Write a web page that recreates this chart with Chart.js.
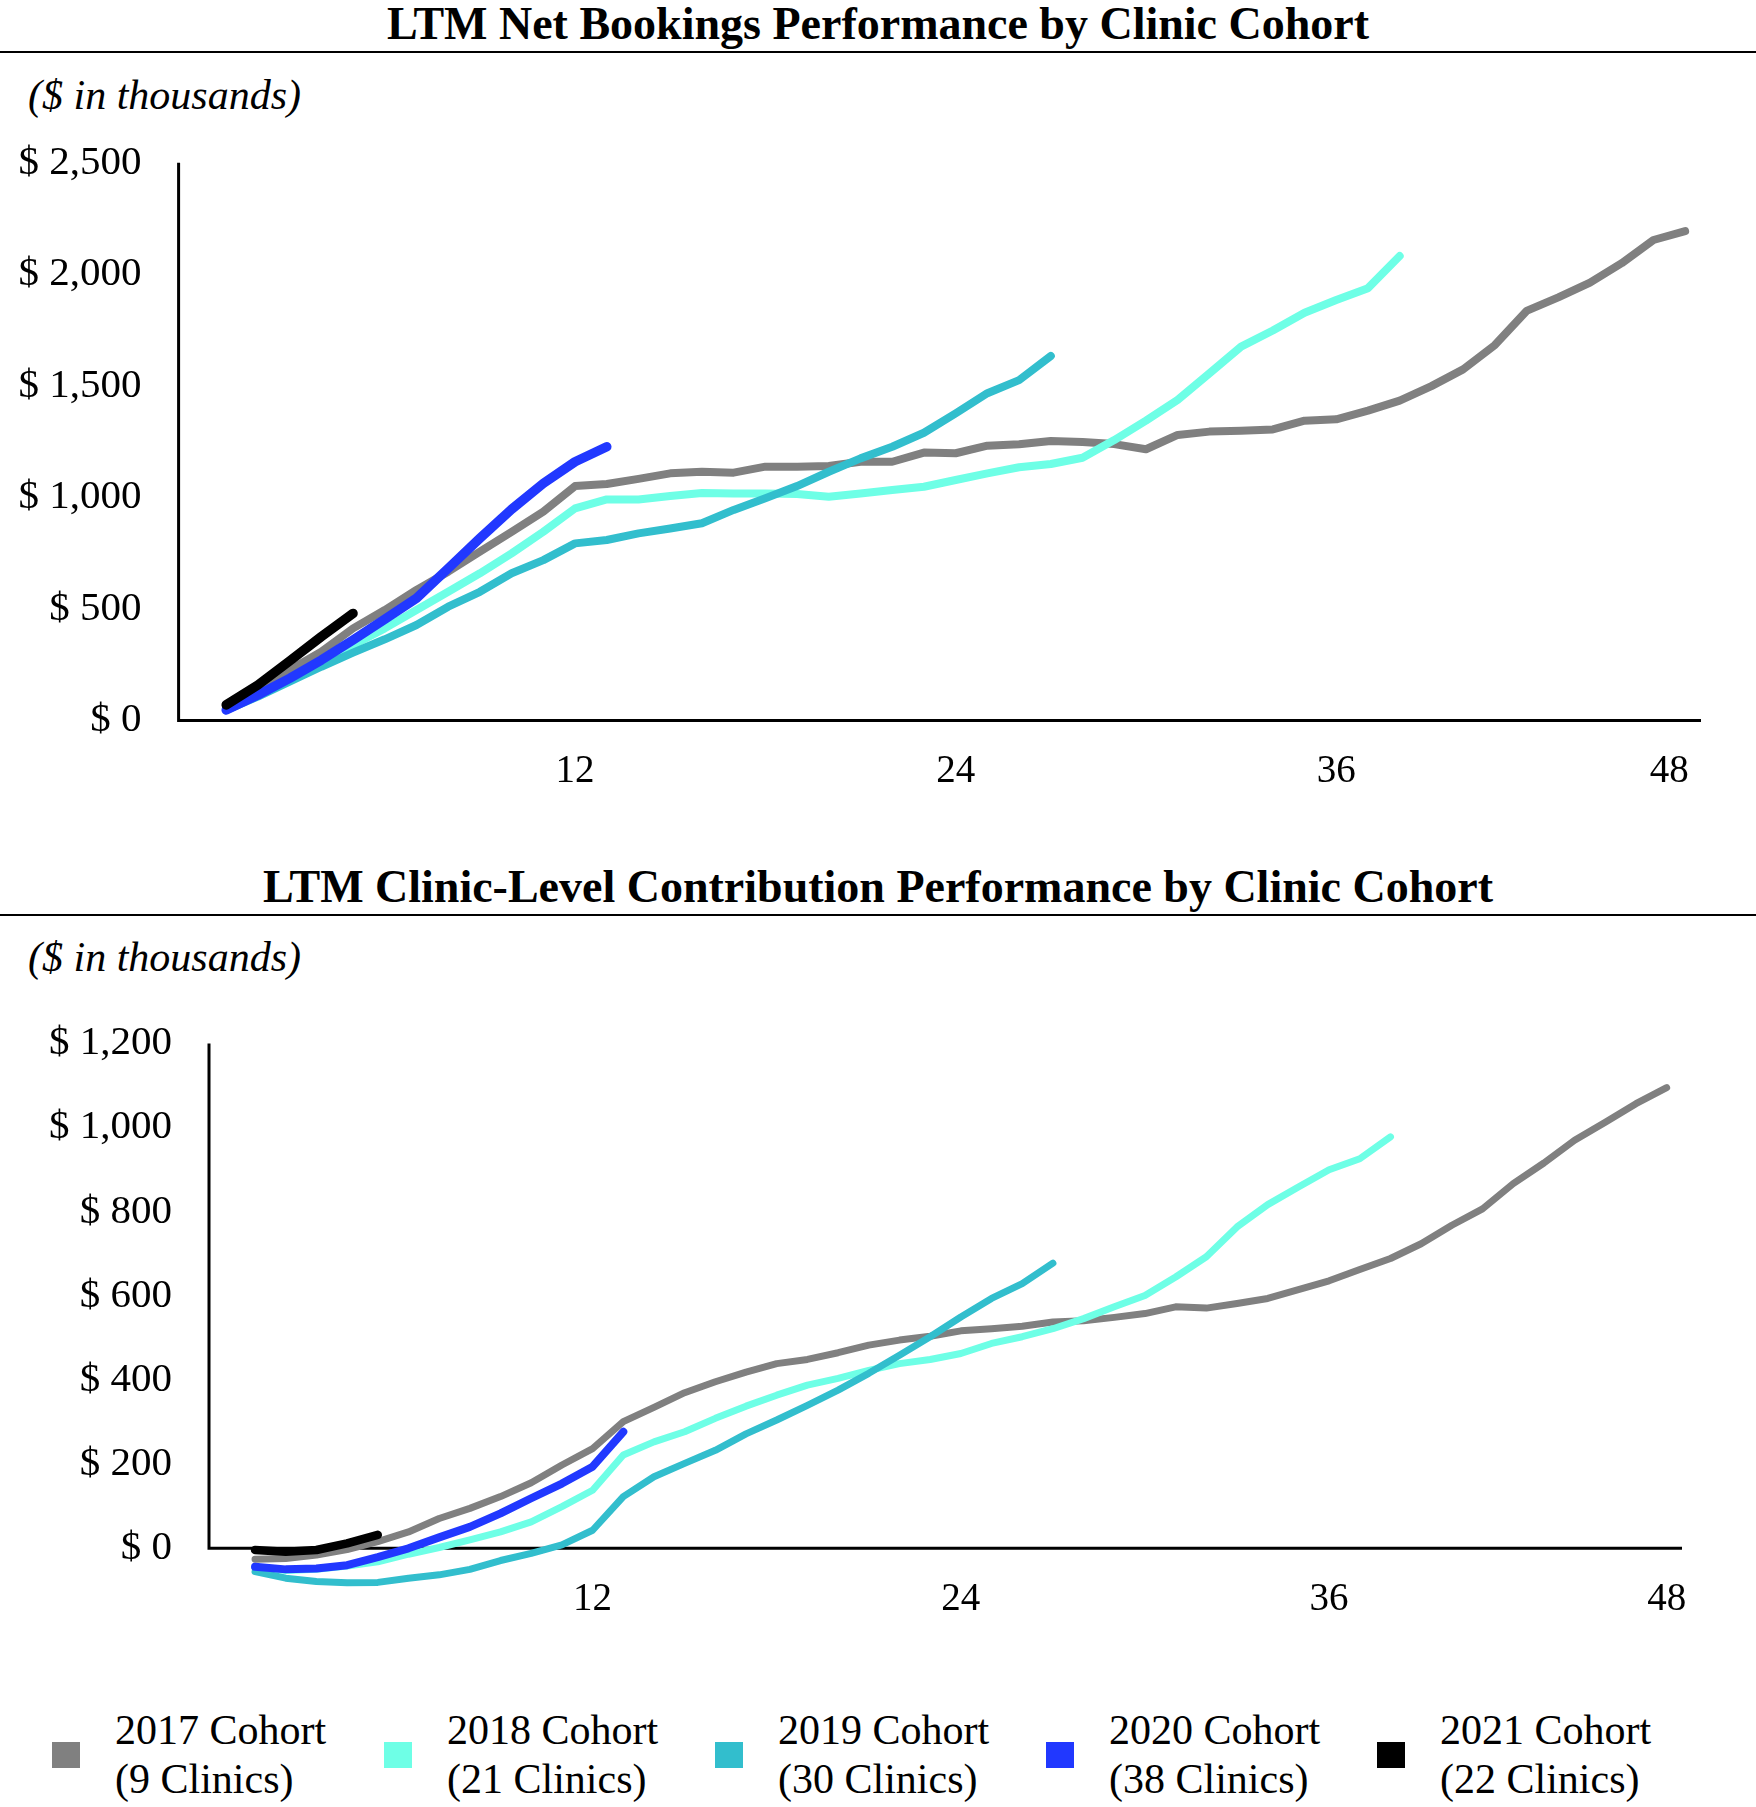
<!DOCTYPE html>
<html>
<head>
<meta charset="utf-8">
<script src="https://cdn.jsdelivr.net/npm/chart.js@4.4.1/dist/chart.umd.min.js"></script>
<style>
  body{margin:0;background:#fff;font-family:"Liberation Serif","Times New Roman",serif;color:#000}
  #page{position:relative;width:1756px;height:1807px;overflow:hidden;background:#fff}
  .title{position:absolute;left:0;width:1756px;text-align:center;font-weight:bold;font-size:46px;line-height:46px;white-space:nowrap}
  .rule{position:absolute;left:0;width:1756px;height:2px;background:#000}
  .sub{position:absolute;left:28px;font-style:italic;font-size:42px;line-height:42px;white-space:nowrap}
  .box{position:absolute;left:0;width:1756px}
  .leg{position:absolute;top:1706px;font-size:42px;line-height:49px;white-space:nowrap}
  .sw{position:absolute;width:28px;height:26px}
</style>
</head>
<body>
<div id="page">
  <div class="title" style="top:1px">LTM Net Bookings Performance by Clinic Cohort</div>
  <div class="rule" style="top:51px"></div>
  <div class="sub" style="top:74px">($ in thousands)</div>
  <div class="box" style="top:120px;height:690px"><canvas id="c1"></canvas></div>

  <div class="title" style="top:864px">LTM Clinic-Level Contribution Performance by Clinic Cohort</div>
  <div class="rule" style="top:914px"></div>
  <div class="sub" style="top:936px">($ in thousands)</div>
  <div class="box" style="top:980px;height:660px"><canvas id="c2"></canvas></div>

  <div id="legend"></div>
</div>
<script>
// cohorts / legend
const cohorts=['2017 Cohort','2018 Cohort','2019 Cohort','2020 Cohort','2021 Cohort'];
const clinics=['(9 Clinics)','(21 Clinics)','(30 Clinics)','(38 Clinics)','(22 Clinics)'];
const colors=['#808080','#6effe6','#32becd','#2138ff','#000000'];

// months since opening
const months=[1,2,3,4,5,6,7,8,9,10,11,12,13,14,15,16,17,18,19,20,21,22,23,24,
  25,26,27,28,29,30,31,32,33,34,35,36,37,38,39,40,41,42,43,44,45,46,47];
const xTickText=['12','24','36','48'];
const bookXTicks=[12,24,36,46.5];
const contXTicks=[12,24,36,47];

// LTM net bookings ($K)
const book2017=[55,122,226,308,413,495,585,667,757,846,936,1051,1060,1083,1108,1115,
  1111,1138,1138,1141,1160,1160,1201,1198,1232,1238,1253,1248,1239,1216,1280,1295,
  1299,1305,1344,1350,1389,1434,1499,1574,1683,1836,1897,1963,2050,2154,2194];
const book2018=[47,114,189,259,338,413,495,577,660,749,846,951,991,991,1006,1020,
  1018,1018,1015,1003,1018,1033,1048,1078,1108,1135,1150,1178,1257,1344,1437,1556,
  1676,1748,1828,1885,1938,2082];
const book2019=[47,107,174,241,304,364,428,510,577,660,719,794,809,839,861,884,
  944,996,1051,1115,1175,1227,1290,1377,1467,1526,1634];
const book2020=[47,114,189,271,361,454,548,682,817,947,1063,1160,1227];
const book2021=[70,159,267,376,480];
const bookYTicks=[0,500,1000,1500,2000,2500];

// LTM clinic-level contribution ($K)
const cont2017=[-26,-24,-16,-3,16,39,71,95,123,156,198,237,301,335,370,396,419,
  439,449,465,483,495,504,517,522,528,538,541,549,558,574,571,582,594,
  615,636,663,689,724,768,807,867,916,970,1013,1057,1095];
const cont2018=[-44,-53,-50,-42,-32,-14,2,20,39,63,99,138,222,253,277,309,338,
  364,388,404,423,439,449,463,487,503,522,546,574,601,645,693,764,817,
  859,900,926,978];
const cont2019=[-55,-71,-79,-82,-81,-71,-63,-50,-29,-12,8,43,123,170,202,233,272,
  305,340,376,416,459,503,550,594,629,678];
const cont2020=[-44,-50,-48,-40,-21,0,26,51,83,119,154,194,277];
const cont2021=[-4,-8,-4,12,32];
const contYTicks=[0,200,400,600,800,1000,1200];

const FONT='"Liberation Serif","Times New Roman",serif';

// axis lines: y from max down to 0, x along 0
const axisLines={
  id:'axisLines',
  beforeDatasetsDraw(chart){
    const {ctx,scales:{x,y}}=chart;
    const y0=y.getPixelForValue(0), yTop=y.getPixelForValue(y.max);
    ctx.save();ctx.strokeStyle='#000';ctx.lineWidth=3;ctx.lineCap='butt';
    ctx.beginPath();
    ctx.moveTo(x.left,yTop);ctx.lineTo(x.left,y0+1.5);
    ctx.moveTo(x.left-1.5,y0);ctx.lineTo(x.right,y0);
    ctx.stroke();ctx.restore();
  }
};

function money(v){return '$ '+v.toLocaleString('en-US');}

function makeChart(id,series,widths,xTicks,yMin,yMax,yTicks,pad,yWidth){
  new Chart(document.getElementById(id),{
    type:'line',
    data:{datasets:series.map((s,i)=>({
      label:cohorts[i],
      data:s.map((v,j)=>({x:months[j],y:v})),
      borderColor:colors[i],backgroundColor:colors[i],
      borderWidth:widths[i],pointRadius:0,tension:0,fill:false,
      borderCapStyle:'round',borderJoinStyle:'round',
      order:4-i
    }))},
    options:{
      responsive:true,maintainAspectRatio:false,animation:false,
      layout:{padding:pad},
      plugins:{legend:{display:false},tooltip:{enabled:false}},
      scales:{
        x:{type:'linear',min:-0.5,max:47.5,position:{y:0},
          grid:{display:false,drawTicks:false},border:{display:false},
          afterBuildTicks:s=>{s.ticks=xTicks.map(v=>({value:v}));},
          afterFit:s=>{s.paddingLeft=0;s.paddingRight=0;},
          ticks:{padding:28,color:'#000',font:{family:FONT,size:39},maxRotation:0,autoSkip:false,
            callback:v=>xTickText[xTicks.indexOf(v)]}
        },
        y:{min:yMin,max:yMax,
          grid:{display:false,drawTicks:false},border:{display:false},
          afterBuildTicks:s=>{s.ticks=yTicks.map(v=>({value:v}));},
          afterFit:s=>{s.width=yWidth;s.paddingTop=0;s.paddingBottom=0;},
          ticks:{padding:37,color:'#000',font:{family:FONT,size:41},callback:v=>money(v)}
        }
      }
    },
    plugins:[axisLines]
  });
}

makeChart('c1',[book2017,book2018,book2019,book2020,book2021],[8,8,8,9.5,9.5],bookXTicks,
  0,2500,bookYTicks,{top:42.8,bottom:89.5,left:0,right:55},178.6);
makeChart('c2',[cont2017,cont2018,cont2019,cont2020,cont2021],[7,7,7,8,8.5],contXTicks,
  -100,1200,contYTicks,{top:63.5,bottom:49.6,left:0,right:74},209);

// legend
const legX=[52,384,715,1046,1377];
document.getElementById('legend').innerHTML=cohorts.map((c,i)=>
  '<div class="sw" style="left:'+legX[i]+'px;top:1742px;background:'+colors[i]+'"></div>'+
  '<div class="leg" style="left:'+(legX[i]+63)+'px">'+c+'<br>'+clinics[i]+'</div>').join('');
</script>
</body>
</html>
